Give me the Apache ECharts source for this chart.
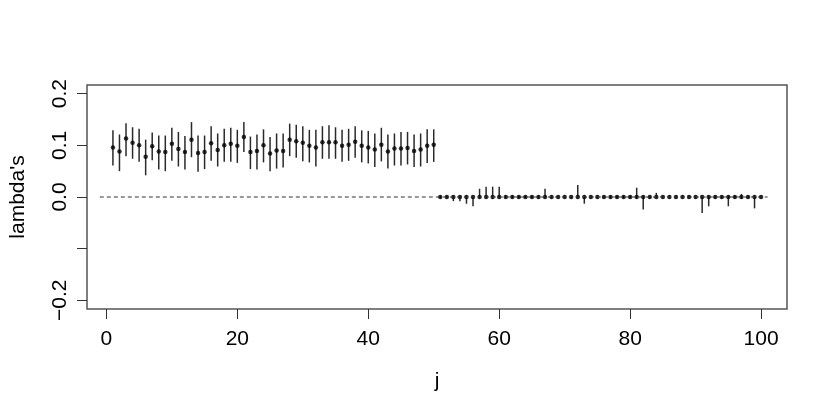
<!DOCTYPE html>
<html>
<head>
<meta charset="utf-8">
<script src="https://cdn.jsdelivr.net/npm/echarts@6/dist/echarts.min.js"></script>
<style>
  html, body { margin: 0; padding: 0; background: #fff; }
  #chart { width: 830px; height: 415px; }
</style>
</head>
<body>
<div id="chart"></div>
<script>
// estimated lambda_j, j = 1..100
var lambda = [
  0.096, 0.088, 0.113, 0.105, 0.100, 0.078, 0.098, 0.088, 0.087, 0.103,
  0.093, 0.087, 0.111, 0.085, 0.087, 0.104, 0.091, 0.100, 0.103, 0.099,
  0.116, 0.087, 0.089, 0.100, 0.084, 0.090, 0.089, 0.111, 0.108, 0.105,
  0.099, 0.096, 0.106, 0.106, 0.106, 0.099, 0.101, 0.107, 0.099, 0.096,
  0.092, 0.101, 0.088, 0.094, 0.094, 0.095, 0.089, 0.092, 0.099, 0.101,
  0, 0, 0, 0, 0, 0, 0, 0, 0, 0,
  0, 0, 0, 0, 0, 0, 0, 0, 0, 0,
  0, 0, 0, 0, 0, 0, 0, 0, 0, 0,
  0, 0, 0, 0, 0, 0, 0, 0, 0, 0,
  0, 0, 0, 0, 0, 0, 0, 0, 0, 0
];
var upper = [
  0.129, 0.121, 0.143, 0.135, 0.132, 0.111, 0.125, 0.119, 0.119, 0.134,
  0.126, 0.118, 0.145, 0.119, 0.119, 0.137, 0.123, 0.132, 0.134, 0.130,
  0.145, 0.117, 0.121, 0.131, 0.116, 0.123, 0.123, 0.142, 0.140, 0.137,
  0.130, 0.130, 0.137, 0.139, 0.135, 0.130, 0.132, 0.137, 0.129, 0.128,
  0.123, 0.134, 0.121, 0.123, 0.126, 0.126, 0.121, 0.123, 0.131, 0.131,
  0.003, 0.003, 0.003, 0.003, 0.003, 0.003, 0.016, 0.020, 0.020, 0.020,
  0.003, 0.003, 0.003, 0.003, 0.003, 0.003, 0.016, 0.003, 0.003, 0.003,
  0.003, 0.023, 0.003, 0.003, 0.003, 0.003, 0.003, 0.003, 0.003, 0.003,
  0.018, 0.003, 0.003, 0.008, 0.003, 0.003, 0.003, 0.003, 0.003, 0.003,
  0.003, 0.003, 0.003, 0.003, 0.003, 0.003, 0.006, 0.003, 0.003, 0.003
];
var lower = [
  0.061, 0.050, 0.079, 0.074, 0.068, 0.042, 0.071, 0.053, 0.050, 0.070,
  0.059, 0.053, 0.077, 0.049, 0.054, 0.070, 0.059, 0.068, 0.068, 0.066,
  0.087, 0.054, 0.053, 0.067, 0.050, 0.055, 0.057, 0.079, 0.076, 0.069,
  0.067, 0.059, 0.074, 0.074, 0.074, 0.068, 0.070, 0.076, 0.067, 0.065,
  0.058, 0.069, 0.055, 0.061, 0.061, 0.063, 0.058, 0.059, 0.066, 0.068,
  -0.003, -0.003, -0.008, -0.008, -0.013, -0.018, -0.003, -0.003, -0.003, -0.003,
  -0.003, -0.003, -0.003, -0.003, -0.003, -0.003, -0.003, -0.003, -0.003, -0.003,
  -0.003, -0.003, -0.013, -0.003, -0.003, -0.003, -0.003, -0.003, -0.003, -0.003,
  -0.003, -0.024, -0.003, -0.003, -0.003, -0.003, -0.003, -0.003, -0.003, -0.003,
  -0.031, -0.018, -0.003, -0.003, -0.018, -0.003, -0.003, -0.003, -0.022, -0.003
];
var xTicks = [0, 20, 40, 60, 80, 100];
var yTicks = [-0.2, -0.1, 0, 0.1, 0.2];
var yLabels = [-0.2, 0, 0.1, 0.2];

var font = 'Liberation Sans, Arial, sans-serif';
var pts = lambda.map(function (v, i) { return [i + 1, v]; });
var bars = lambda.map(function (v, i) { return [i + 1, lower[i], upper[i]]; });

var chart = echarts.init(document.getElementById('chart'));
chart.setOption({
  animation: false,
  backgroundColor: '#fff',
  grid: {
    left: 85, right: 43, top: 85, bottom: 106,
    show: true, borderColor: '#555', borderWidth: 1.5, backgroundColor: 'transparent'
  },
  xAxis: {
    type: 'value', min: -2.96, max: 103.96,
    name: 'j', nameLocation: 'middle', nameGap: 62,
    nameTextStyle: { fontFamily: font, fontSize: 21, color: '#000' },
    axisLine: { show: false, onZero: false },
    splitLine: { show: false },
    axisTick: { show: true, inside: false, length: 10, customValues: xTicks, lineStyle: { color: '#333', width: 1 } },
    axisLabel: { customValues: xTicks, margin: 20, fontFamily: font, fontSize: 21, color: '#000' }
  },
  yAxis: {
    type: 'value', min: -0.2168, max: 0.2168,
    name: "lambda's", nameLocation: 'middle', nameGap: 58,
    nameTextStyle: { fontFamily: font, fontSize: 21, color: '#000' },
    axisLine: { show: false, onZero: false },
    splitLine: { show: false },
    axisTick: { show: true, inside: false, length: 10, customValues: yTicks, lineStyle: { color: '#333', width: 1 } },
    axisLabel: {
      customValues: yLabels, rotate: 90, margin: 16,
      fontFamily: font, fontSize: 21, color: '#000',
      formatter: function (v) {
        return v < 0 ? '\u2212' + Math.abs(v).toFixed(1) : v.toFixed(1);
      }
    }
  },
  series: [
    {
      type: 'line', data: [[-1, 0], [101, 0]], symbol: 'none', silent: true,
      lineStyle: { color: '#333', width: 1, type: [4, 3] }
    },
    {
      type: 'custom', data: bars, silent: true,
      renderItem: function (params, api) {
        var a = api.coord([api.value(0), api.value(1)]);
        var b = api.coord([api.value(0), api.value(2)]);
        return {
          type: 'line',
          shape: { x1: a[0], y1: a[1], x2: b[0], y2: b[1] },
          style: { stroke: '#2a2a2a', lineWidth: 1.5 }
        };
      }
    },
    {
      type: 'scatter', data: pts, symbol: 'circle', symbolSize: 4.5,
      itemStyle: { color: '#000' }, silent: true
    }
  ]
});
</script>
</body>
</html>
